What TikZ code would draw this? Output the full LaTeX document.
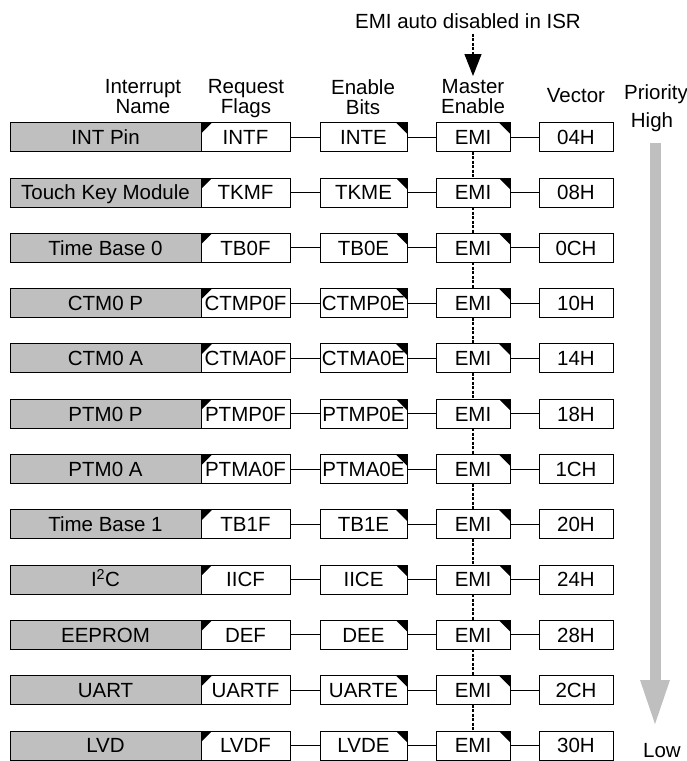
\documentclass[tikz,border=0pt]{standalone}
\usepackage{fontspec}
\setmainfont{Liberation Sans}
\usepackage{tikz}
\usetikzlibrary{arrows.meta, positioning}
\definecolor{boxgray}{RGB}{191,191,191}
\tikzset{
  lbl/.style={font=\fontsize{20.5}{20}\selectfont, inner sep=0pt, outer sep=0pt,
    text height=14.7pt, text depth=0pt},
  namebox/.style={lbl, draw, line width=1pt, fill=boxgray, minimum width=191pt, minimum height=29pt},
  bitbox/.style={lbl, draw, line width=1pt, fill=white, minimum height=29pt},
  hdr/.style={font=\fontsize{20.5}{20}\selectfont, inner sep=0pt, align=center, anchor=north},
  link/.style={line width=1pt},
  isrline/.style={line width=1.2pt, dash pattern=on 3pt off 1.5pt},
}

\begin{document}
\begin{tikzpicture}[x=1pt, y=-1pt]
  \useasboundingbox (0,0) rectangle (687,761);
  % column headings
  \node[hdr] (hname) at (143,79) {Interrupt\\Name};
  \node[hdr] (hflag) at (246,79) {Request\\Flags};
  \node[hdr] (hen) at (363,79) {Enable\\Bits};
  \node[hdr] (hmas) at (473,79) {Master\\Enable};
  \node[lbl] (hvec) at (576,95) {Vector};
  \node[lbl] (hprio) at (656,92.5) {Priority};
  \node[lbl] (high) at (652,120) {High};
  \node[lbl] (low) at (662,750) {Low};

  % EMI cleared on entry
  \node[lbl] (isr) at (468,21.5) {EMI auto disabled in ISR};
  \coordinate (isrtip) at (473,76);
  \draw[isrline, -{Triangle[length=22pt, width=17pt]}]
    (isrtip |- isr.south) ++(0,5) -- (isrtip);

  % one row per interrupt source
  \foreach \i/\nm/\fl/\en/\vc in {
      1/INT Pin/INTF/INTE/04H,
      2/Touch Key Module/TKMF/TKME/08H,
      3/Time Base 0/TB0F/TB0E/0CH,
      4/CTM0 P/CTMP0F/CTMP0E/10H,
      5/CTM0 A/CTMA0F/CTMA0E/14H,
      6/PTM0 P/PTMP0F/PTMP0E/18H,
      7/PTM0 A/PTMA0F/PTMA0E/1CH,
      8/Time Base 1/TB1F/TB1E/20H,
      9/I\textsuperscript{2}C/IICF/IICE/24H,
      10/EEPROM/DEF/DEE/28H,
      11/UART/UARTF/UARTE/2CH,
      12/LVD/LVDF/LVDE/30H} {
    \pgfmathsetmacro\ry{137.2+55.3*(\i-1)}
    \node[namebox] (n\i) at (105.5,\ry) {\nm};
    \node[bitbox, minimum width=89pt, right=0pt of n\i] (f\i) {\fl};
    \node[bitbox, minimum width=87pt, right=30pt of f\i] (e\i) {\en};
    \node[bitbox, minimum width=74pt, right=29pt of e\i] (m\i) {EMI};
    \node[bitbox, minimum width=74pt, right=29pt of m\i] (v\i) {\vc};
    % corner flags
    \fill (f\i.north west) -- ++(11,0) -- ++(-11,11) -- cycle;
    \fill (e\i.north east) -- ++(-11,0) -- ++(11,11) -- cycle;
    \fill (m\i.north east) -- ++(-11,0) -- ++(11,11) -- cycle;
    \draw[link] (f\i.east) -- (e\i.west);
    \draw[link] (e\i.east) -- (m\i.west);
    \draw[link] (m\i.east) -- (v\i.west);
  }

  % shared master enable
  \foreach \i [remember=\i as \p (initially 1)] in {2,...,12}
    \draw[isrline] (m\p.south) -- (m\i.north);

  % priority
  \coordinate (ptop) at (655,143);
  \coordinate (pbot) at (655,728);
  \draw[boxgray, line width=11pt, -{Triangle[length=48pt, width=26pt]}] (ptop) -- (pbot);
\end{tikzpicture}
\end{document}
